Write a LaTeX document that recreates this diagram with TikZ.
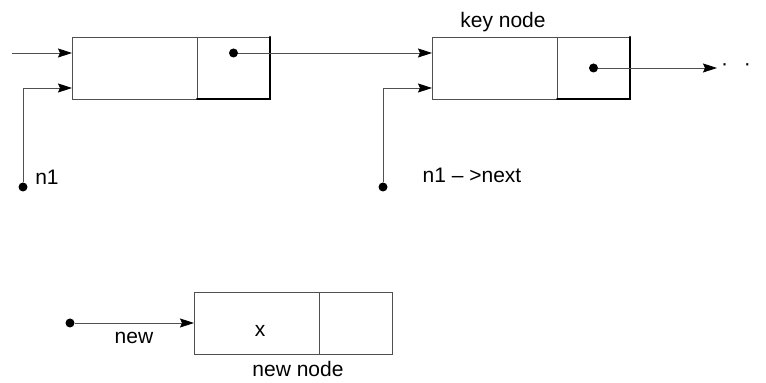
\documentclass[tikz,border=0pt]{standalone}
\usepackage{fontspec}
\setmainfont{Liberation Sans}
\usepackage{tikz}
\usetikzlibrary{arrows.meta,positioning}
\usepackage{xcolor}
\definecolor{lineink}{RGB}{80,80,80}

\begin{document}
\begin{tikzpicture}[x=0.5pt, y=-0.5pt,
  font=\fontsize{10.5}{12}\selectfont,
  datafield/.style={draw=lineink, line width=0.4pt, minimum width=62.5pt, minimum height=31pt, inner sep=0pt, outer sep=0pt, anchor=north west},
  ptrfield/.style={draw=lineink, line width=0.4pt, minimum width=36.5pt, minimum height=31pt, inner sep=0pt, outer sep=0pt},
  dot/.style={circle, fill=black, inner sep=0pt, minimum size=4.5pt},
  arr/.style={-{Stealth[length=7pt, width=4.5pt, inset=1pt, color=black]}, draw=lineink, line width=0.4pt},
  shade/.style={line width=1pt, line cap=round}
]
  \useasboundingbox (0,0) rectangle (766,383);
  \node[datafield] (data1) at (72,37) {};
  \node[ptrfield, right=0pt of data1] (ptr1) {};
  \node[datafield] (data2) at (432,37) {};
  \node[ptrfield, right=0pt of data2] (ptr2) {};
  \node[datafield] (data3) at (194,292) {};
  \node[ptrfield, right=0pt of data3] (ptr3) {};
  \draw[shade] (ptr1.north east) -- (ptr1.south east) -- (ptr1.south west);
  \draw[shade] (ptr2.north east) -- (ptr2.south east) -- (ptr2.south west);
  \coordinate (in1) at (12,53);
  \coordinate (end2) at (717,68);
  \node[dot] (dot1) at (ptr1.center |- in1) {};
  \node[dot] (dot2) at (ptr2.center) {};
  \node[dot] (n1dot) at (23,187) {};
  \node[dot] (nextdot) at (383,187) {};
  \node[dot] (newdot) at (70,323) {};
  \node (keylabel) at (503,22) {key node};
  \node (n1label) at (47,177) {n1};
  \node (nextlabel) at (472,175) {n1 \textendash\ >next};
  \node (newlabel) at (134,338) {new};
  \node (newnodelabel) at (298,369) {new node};
  \node (xval) at (260,331) {x};
  \node (more) at (736,67) {\textperiodcentered\hspace{8pt}\textperiodcentered};
  \draw[arr] (in1) -- (data1.west |- in1);
  \draw[arr] (n1dot) |- (data1.west |- 0,88);
  \draw[arr] (dot1) -- (data2.west |- dot1);
  \draw[arr] (nextdot) |- (data2.west |- 0,88);
  \draw[arr] (dot2) -- (end2);
  \draw[arr] (newdot) -- (data3.west |- newdot);
\end{tikzpicture}
\end{document}
